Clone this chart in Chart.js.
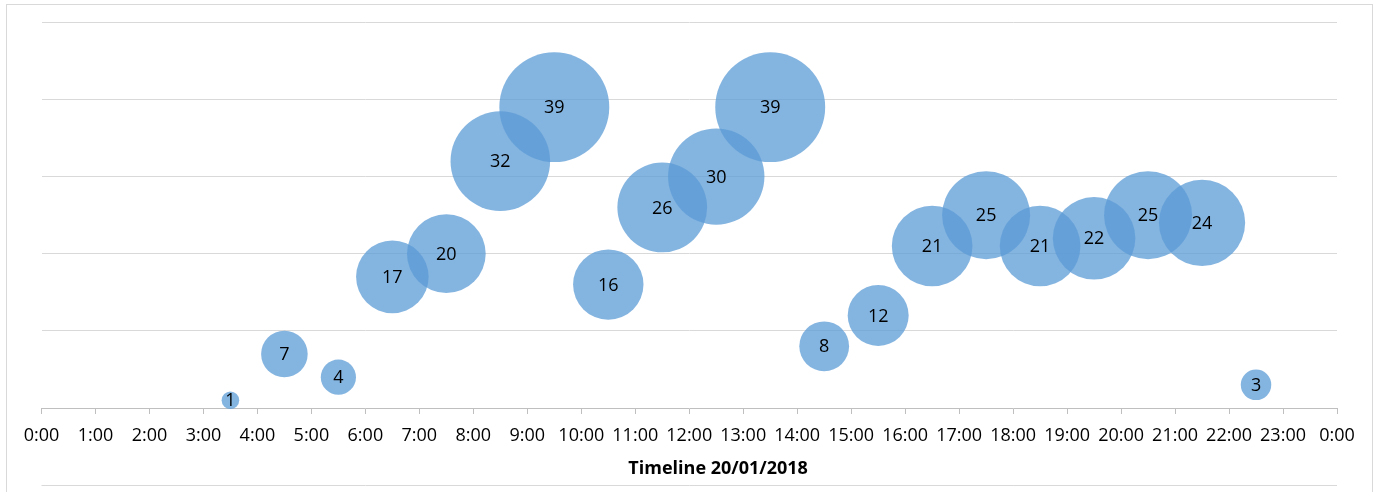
<!DOCTYPE html>
<html>
<head>
<meta charset="utf-8">
<script src="https://cdn.jsdelivr.net/npm/chart.js@4"></script>
<style>
  html, body { margin: 0; padding: 0; background: #ffffff; }
  #wrap { width: 1381px; height: 492px; position: relative; }
</style>
</head>
<body>
<div id="wrap"><canvas id="c" width="1381" height="492"></canvas></div>
<script>
// Hourly activity on 20/01/2018: bubble at the middle of each hour,
// height and area both follow the count.
const hours = [3.5, 4.5, 5.5, 6.5, 7.5, 8.5, 9.5, 10.5, 11.5, 12.5, 13.5, 14.5, 15.5, 16.5, 17.5, 18.5, 19.5, 20.5, 21.5, 22.5];
const counts = [1, 7, 4, 17, 20, 32, 39, 16, 26, 30, 39, 8, 12, 21, 25, 21, 22, 25, 24, 3];
const hourTicks = [0, 1, 2, 3, 4, 5, 6, 7, 8, 9, 10, 11, 12, 13, 14, 15, 16, 17, 18, 19, 20, 21, 22, 23, 24];
const axisTitle = 'Timeline 20/01/2018';

const FONT = "'Open Sans', 'Liberation Sans', sans-serif";
const BUBBLE_SCALE = 8.8; // pixels of radius per sqrt(count)

const points = hours.map((h, i) => ({ x: h, y: counts[i], v: counts[i] }));

// Light frame around the whole chart, axis title and a rule under it
const framePlugin = {
  id: 'frame',
  beforeDraw(chart) {
    const { ctx, chartArea } = chart;
    ctx.save();
    ctx.strokeStyle = '#d9d9d9';
    ctx.lineWidth = 1;
    ctx.strokeRect(6.5, 4.5, 1366, 600);
    ctx.beginPath();
    ctx.moveTo(chartArea.left, 485.5);
    ctx.lineTo(chartArea.right, 485.5);
    ctx.stroke();
    ctx.fillStyle = '#000000';
    ctx.font = "bold 18px " + FONT;
    ctx.textAlign = 'center';
    ctx.textBaseline = 'middle';
    ctx.fillText(axisTitle, chart.width * 0.52, 469);
    ctx.restore();
  }
};

// Count written in the middle of every bubble
const valueLabels = {
  id: 'valueLabels',
  afterDatasetsDraw(chart) {
    const { ctx } = chart;
    const meta = chart.getDatasetMeta(0);
    ctx.save();
    ctx.font = "18px " + FONT;
    ctx.fillStyle = '#000000';
    ctx.textAlign = 'center';
    ctx.textBaseline = 'middle';
    meta.data.forEach((el, i) => {
      ctx.fillText(String(counts[i]), el.x, el.y + 1);
    });
    ctx.restore();
  }
};

new Chart(document.getElementById('c'), {
  type: 'bubble',
  data: {
    datasets: [{
      data: points,
      backgroundColor: 'rgba(91,155,213,0.75)',
      hoverBackgroundColor: 'rgba(91,155,213,0.75)',
      borderWidth: 0,
      hoverBorderWidth: 0,
      clip: false,
      radius: (c) => BUBBLE_SCALE * Math.sqrt(c.raw ? c.raw.v : 0),
      hoverRadius: 0
    }]
  },
  options: {
    responsive: false,
    animation: false,
    events: [],
    layout: { autoPadding: false, padding: { left: 41.5, right: 44, top: 22.3, bottom: 0 } },
    plugins: {
      legend: { display: false },
      tooltip: { enabled: false }
    },
    scales: {
      x: {
        type: 'linear',
        min: 0,
        max: 24,
        afterBuildTicks: (s) => { s.ticks = hourTicks.map(v => ({ value: v })); },
        afterFit: (s) => { s.height = 84; },
        ticks: {
          autoSkip: false,
          maxRotation: 0,
          padding: 11,
          color: '#000000',
          font: { family: FONT, size: 18 },
          callback: (v) => (v % 24) + ':00'
        },
        grid: {
          drawOnChartArea: false,
          drawTicks: true,
          tickLength: 6,
          color: '#bfbfbf',
          tickColor: '#bfbfbf'
        },
        border: { display: true, color: '#bfbfbf', width: 1 },
        title: { display: false }
      },
      y: {
        min: 0,
        max: 50,
        afterFit: (s) => { s.width = 0; },
        ticks: { display: false, stepSize: 10 },
        grid: {
          drawTicks: false,
          color: (c) => (c.tick && c.tick.value === 0) ? 'rgba(0,0,0,0)' : '#d9d9d9'
        },
        border: { display: false }
      }
    }
  },
  plugins: [framePlugin, valueLabels]
});
</script>
</body>
</html>
